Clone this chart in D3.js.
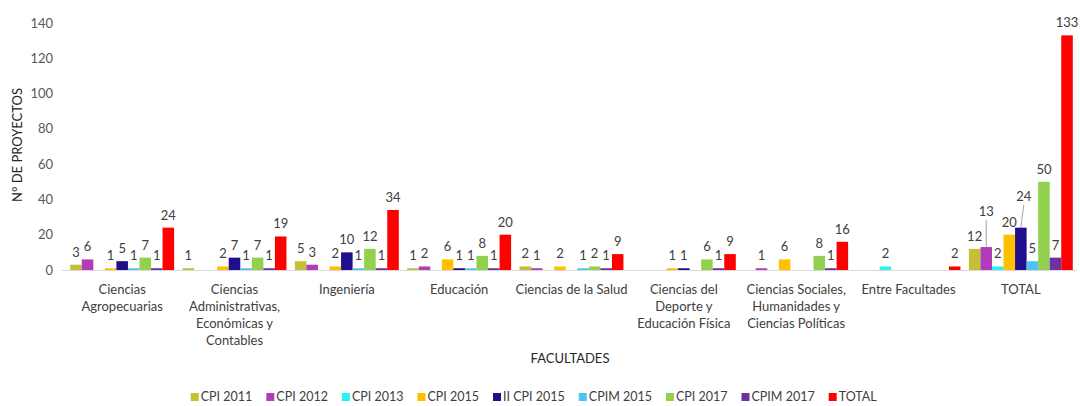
<!DOCTYPE html>
<html>
<head>
<meta charset="utf-8">
<script src="https://cdn.jsdelivr.net/npm/d3@7/dist/d3.min.js"></script>
<style>
  body { margin: 0; background: #fff; }
  svg { font-family: Lato, "Open Sans", sans-serif; }
</style>
</head>
<body>
<svg width="1080" height="406"></svg>
<script>
// Categories (tick labels, already split in lines)
var categories = [
  ["Ciencias", "Agropecuarias"],
  ["Ciencias", "Administrativas,", "Económicas y", "Contables"],
  ["Ingeniería"],
  ["Educación"],
  ["Ciencias de la Salud"],
  ["Ciencias del", "Deporte y", "Educación Física"],
  ["Ciencias Sociales,", "Humanidades y", "Ciencias Políticas"],
  ["Entre Facultades"],
  ["TOTAL"]
];

var seriesNames = ["CPI 2011", "CPI 2012", "CPI 2013", "CPI 2015", "II CPI 2015",
                   "CPIM 2015", "CPI 2017", "CPIM 2017", "TOTAL"];

// values per series, one per category
var cpi2011   = [3, 1, 5, 1, 2, 0, 0, 0, 12];
var cpi2012   = [6, 0, 3, 2, 1, 0, 1, 0, 13];
var cpi2013   = [0, 0, 0, 0, 0, 0, 0, 2, 2];
var cpi2015   = [1, 2, 2, 6, 2, 1, 6, 0, 20];
var iiCpi2015 = [5, 7, 10, 1, 0, 1, 0, 0, 24];
var cpim2015  = [1, 1, 1, 1, 1, 0, 0, 0, 5];
var cpi2017   = [7, 7, 12, 8, 2, 6, 8, 0, 50];
var cpim2017  = [1, 1, 1, 1, 1, 1, 1, 0, 7];
var total     = [24, 19, 34, 20, 9, 9, 16, 2, 133];

var yTicks = [0, 20, 40, 60, 80, 100, 120, 140];

var colors = ["#c3c035", "#b23cb8", "#2cf0f5", "#ffc000", "#1f0f8c",
              "#4fc3f7", "#92d050", "#7030a0", "#ff0000"];

var values = [cpi2011, cpi2012, cpi2013, cpi2015, iiCpi2015, cpim2015, cpi2017, cpim2017, total];

// labels moved up with a leader line (TOTAL group)
var lifted = { "8-1": 23, "8-4": 19 };

var svg = d3.select("svg");

var x0 = d3.scaleBand()
    .domain(d3.range(categories.length))
    .range([66, 1077])
    .paddingInner(0.075)
    .paddingOuter(0.0375);

var x1 = d3.scaleBand()
    .domain(d3.range(seriesNames.length))
    .range([0, x0.bandwidth()])
    .padding(0);

var y = d3.scaleLinear().domain([0, 140]).range([270, 23]);

// y tick labels
svg.append("g")
  .selectAll("text")
  .data(yTicks)
  .enter().append("text")
    .attr("x", 53)
    .attr("y", function(d) { return y(d); })
    .attr("dy", "0.35em")
    .attr("text-anchor", "end")
    .attr("font-size", 13)
    .attr("fill", "#595959")
    .text(function(d) { return d; });

// axis title
svg.append("text")
    .attr("transform", "translate(22,145) rotate(-90)")
    .attr("text-anchor", "middle")
    .attr("font-size", 13)
    .attr("fill", "#262626")
    .text("N° DE PROYECTOS");

// baseline
svg.append("line")
    .attr("x1", 62).attr("x2", 1077)
    .attr("y1", y(0) + 0.5).attr("y2", y(0) + 0.5)
    .attr("stroke", "#d9d9d9");

// bars
var cells = [];
categories.forEach(function(c, i) {
  seriesNames.forEach(function(s, j) {
    cells.push({ cat: i, ser: j, v: values[j][i] });
  });
});
var shown = cells.filter(function(d) { return d.v > 0; });

var g = svg.append("g");

g.selectAll(".bar")
  .data(shown)
  .enter().append("rect")
    .attr("class", "bar")
    .attr("x", function(d) { return x0(d.cat) + x1(d.ser); })
    .attr("y", function(d) { return y(d.v); })
    .attr("width", x1.bandwidth())
    .attr("height", function(d) { return y(0) - y(d.v); })
    .attr("fill", function(d) { return colors[d.ser]; });

function cx(d) { return x0(d.cat) + x1(d.ser) + x1.bandwidth() / 2; }
function lift(d) { return lifted[d.cat + "-" + d.ser] || 0; }

// leader lines
g.selectAll(".leader")
  .data(shown.filter(function(d) { return lift(d) > 0; }))
  .enter().append("line")
    .attr("x1", function(d) { return cx(d) + (d.ser === 4 ? 3 : 0); })
    .attr("x2", cx)
    .attr("y1", function(d) { return y(d.v) - lift(d) - 4; })
    .attr("y2", function(d) { return y(d.v); })
    .attr("stroke", "#a6a6a6");

// data labels
g.selectAll(".lbl")
  .data(shown)
  .enter().append("text")
    .attr("x", function(d) { return cx(d) + (lift(d) && d.ser === 4 ? 3 : 0); })
    .attr("y", function(d) { return y(d.v) - 8 - lift(d); })
    .attr("text-anchor", "middle")
    .attr("font-size", 13)
    .attr("fill", "#404040")
    .text(function(d) { return d.v; });

// category labels
var cl = svg.append("g").selectAll("text")
  .data(categories)
  .enter().append("text")
    .attr("text-anchor", "middle")
    .attr("font-size", 13)
    .attr("fill", "#404040")
    .attr("transform", function(d, i) { return "translate(" + (x0(i) + x0.bandwidth() / 2) + ",294)"; });
cl.selectAll("tspan")
  .data(function(d) { return d; })
  .enter().append("tspan")
    .attr("x", 0)
    .attr("y", function(d, k) { return k * 17; })
    .text(function(d) { return d; });

// x axis title
svg.append("text")
    .attr("x", 570).attr("y", 363)
    .attr("text-anchor", "middle")
    .attr("font-size", 13)
    .attr("fill", "#262626")
    .text("FACULTADES");

// legend
var legend = svg.append("g").attr("transform", "translate(0,397)");
var items = legend.selectAll("g")
  .data(seriesNames)
  .enter().append("g");
items.append("rect")
    .attr("width", 8).attr("height", 8)
    .attr("y", -4)
    .attr("fill", function(d, i) { return colors[i]; });
items.append("text")
    .attr("x", 10)
    .attr("dy", "0.35em")
    .attr("font-size", 12.5)
    .attr("fill", "#404040")
    .text(function(d) { return d; });

var pos = 0, offsets = [];
items.each(function() {
  offsets.push(pos);
  pos += this.getBBox().width + 14;
});
var startX = 534 - (pos - 14) / 2;
items.attr("transform", function(d, i) { return "translate(" + (startX + offsets[i]) + ",0)"; });
</script>
</body>
</html>
